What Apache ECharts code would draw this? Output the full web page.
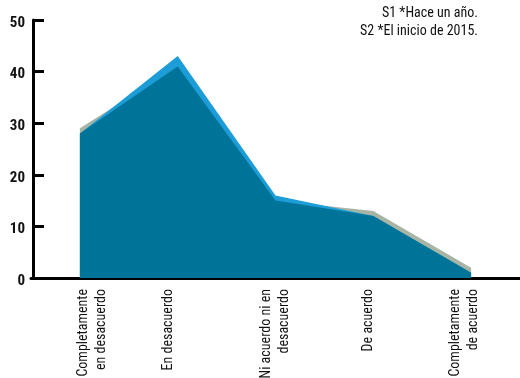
<!DOCTYPE html>
<html><head><meta charset="utf-8">
<script src="https://cdn.jsdelivr.net/npm/echarts@6/dist/echarts.min.js"></script>
<style>html,body{margin:0;padding:0;background:#fff}#c{width:520px;height:378px}</style>
</head><body><div id="c"></div>
<script>
var categories = ['Completamente\nen desacuerdo', 'En desacuerdo', 'Ni acuerdo ni en\ndesacuerdo', 'De acuerdo', 'Completamente\nde acuerdo'];
var s1 = [29, 41, 15, 13, 2];      // S1 *Hace un año (gris)
var s2 = [28, 43, 16, 12, 1];      // S2 *El inicio de 2015 (azul)
var common = [28, 41, 15, 12, 1];  // zona común (azul oscuro)
var yTicks = [0, 10, 20, 30, 40, 50];
var legendLines = ['S1 *Hace un año.', 'S2 *El inicio de 2015.'];

var FONT = 'Roboto, "Open Sans", sans-serif';
var COND = 'condensed';
var COND_BOLD = 'condensed bold';
// horizontal nudge of each rotated category label (px, + = right)
var labelShift = [13, -9, 0, -5, -7];

var rich = {};
labelShift.forEach(function (d, i) {
  rich['c' + i] = { fontFamily: FONT, fontWeight: COND, fontSize: 14, color: '#111', lineHeight: 18,
    padding: d >= 0 ? [2 * d, 0, 0, 0] : [0, 0, -2 * d, 0] };
});

var chart = echarts.init(document.getElementById('c'));
function labelled(arr, idx, text, dist) {
  return arr.map(function (v, i) {
    if (i !== idx) return v;
    return { value: v, label: { show: true, position: 'top', distance: dist, formatter: text,
      fontFamily: FONT, fontWeight: COND_BOLD, fontSize: 18, color: '#111' } };
  });
}
chart.setOption({
  animation: false,
  graphic: legendLines.map(function (t, i) {
    return { type: 'text', x: 478, y: 13 + i * 18,
      style: { text: t, textAlign: 'right', textVerticalAlign: 'middle', fontFamily: FONT, fontWeight: COND, fontSize: 14, fill: '#111' } };
  }),
  grid: { left: 31, right: 0, top: 20, bottom: 100, containLabel: false, outerBoundsMode: 'none' },
  xAxis: {
    type: 'category', data: categories, boundaryGap: true,
    axisLine: { lineStyle: { color: '#000', width: 3 } },
    axisTick: { inside: true, alignWithLabel: true, length: 5, lineStyle: { color: '#000', width: 3 } },
    axisLabel: {
      rotate: 90, margin: 11, interval: 0, hideOverlap: false,
      fontFamily: FONT, fontWeight: COND, fontSize: 14, color: '#111', lineHeight: 18,
      formatter: function (value, index) {
        return value.split('\n').map(function (l) { return '{c' + index + '|' + l + '}'; }).join('\n');
      },
      rich: rich
    }
  },
  yAxis: {
    type: 'value', min: yTicks[0], max: yTicks[yTicks.length - 1], interval: 10, offset: -2,
    splitLine: { show: false },
    axisLine: { show: true, lineStyle: { color: '#000', width: 3 } },
    axisTick: { show: true, inside: true, length: 11, lineStyle: { color: '#000', width: 3 } },
    axisLabel: { margin: 8, fontFamily: FONT, fontWeight: COND_BOLD, fontSize: 15, color: '#111',
      formatter: function (v) { return '{y|' + v + '}'; },
      rich: { y: { fontFamily: FONT, fontWeight: COND_BOLD, fontSize: 15, color: '#111', lineHeight: 16, padding: [6, 0, 0, 0] } } }
  },
  series: [
    { name: 'S1', type: 'line', data: labelled(s1, 3, 'S1', 7), symbol: 'none', lineStyle: { width: 0 },
      areaStyle: { color: '#a9b5a4', opacity: 1 }, z: 1 },
    { name: 'S2', type: 'line', data: labelled(s2, 1, 'S2', 3), symbol: 'none', lineStyle: { width: 0 },
      areaStyle: { color: '#1c9dd8', opacity: 1 }, z: 2 },
    { name: 'común', type: 'line', data: common, symbol: 'none', lineStyle: { width: 0 },
      areaStyle: { color: '#007398', opacity: 1 }, z: 3 }
  ]
});
</script></body></html>
